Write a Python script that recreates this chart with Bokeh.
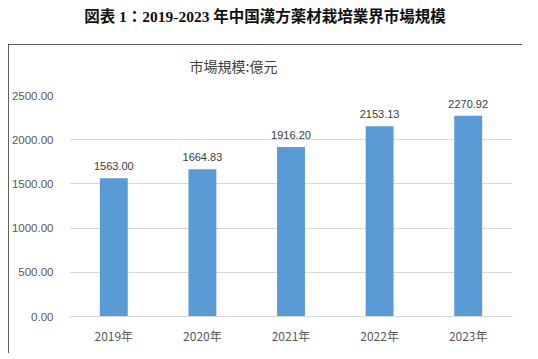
from bokeh.plotting import figure
from bokeh.models import ColumnDataSource, FactorRange, Range1d, FixedTicker, NumeralTickFormatter, Title, Div
from bokeh.layouts import column
from bokeh.embed import file_html
from bokeh.resources import INLINE
from bokeh.core.properties import value

title_text = "図表 1：2019-2023 年中国漢方薬材栽培業界市場規模"
subtitle_text = "市場規模:億元"
categories = ["2019年", "2020年", "2021年", "2022年", "2023年"]
values = [1563.00, 1664.83, 1916.20, 2153.13, 2270.92]
y_ticks = [0, 500, 1000, 1500, 2000, 2500]

labels = ["{:.2f}".format(v) for v in values]
src = ColumnDataSource(dict(cat=categories, val=values, lab=labels))

title_div = Div(
    text=title_text, width=530, height=44, margin=(0, 0, 0, 0),
    styles={"text-align": "center", "font-size": "15.5px", "font-weight": "bold",
            "font-family": "'Liberation Serif', 'Noto Sans CJK JP', serif",
            "color": "#111111", "line-height": "34px", "width": "530px", "white-space": "nowrap"},
)

p = figure(
    x_range=FactorRange(*categories), y_range=Range1d(0, y_ticks[-1]),
    width=514, height=309, output_backend="svg", toolbar_location=None,
    min_border_left=59, min_border_right=10, min_border_top=51, min_border_bottom=37,
    margin=(0, 0, 0, 8),
    styles={"outline": "2px solid #2b2b2b", "outline-offset": "-2px"},
)
p.outline_line_color = None
p.background_fill_color = "white"
p.border_fill_color = "white"

# spacer between frame and subtitle
p.add_layout(Title(text=" ", text_font_size="2px", standoff=14), "above")
sub = Title(text=subtitle_text, align="left", offset=120, text_font="Noto Sans CJK JP",
            text_font_style="normal", text_font_size="14px", text_color="#404040", standoff=4)
p.add_layout(sub, "above")

p.vbar(x="cat", top="val", width=0.315, source=src, color="#5b9bd5", line_color=None)
p.text(x="cat", y="val", text="lab", source=src, text_align="center", text_baseline="bottom",
       y_offset=-8, text_font=value("Liberation Sans"), text_font_size="11px", text_color="#404040")

p.yaxis.ticker = FixedTicker(ticks=y_ticks)
p.yaxis.formatter = NumeralTickFormatter(format="0.00")
p.yaxis.axis_line_color = None
p.yaxis.major_tick_line_color = None
p.yaxis.minor_tick_line_color = None
p.yaxis.major_label_standoff = 10
p.yaxis.major_label_text_font = "Liberation Sans"
p.yaxis.major_label_text_font_size = "11.5px"
p.yaxis.major_label_text_color = "#595959"

p.xaxis.axis_line_color = "#d9d9d9"
p.xaxis.major_tick_line_color = None
p.xaxis.minor_tick_line_color = None
p.xaxis.major_label_standoff = 4
p.xaxis.major_label_text_font = "Noto Sans CJK JP"
p.xaxis.major_label_text_font_size = "12px"
p.xaxis.major_label_text_color = "#595959"

p.xgrid.grid_line_color = None
p.ygrid.grid_line_color = "#d9d9d9"
p.ygrid.grid_line_width = 1

layout = column(title_div, p, spacing=0)
open("out.html", "w").write(file_html(layout, INLINE))
